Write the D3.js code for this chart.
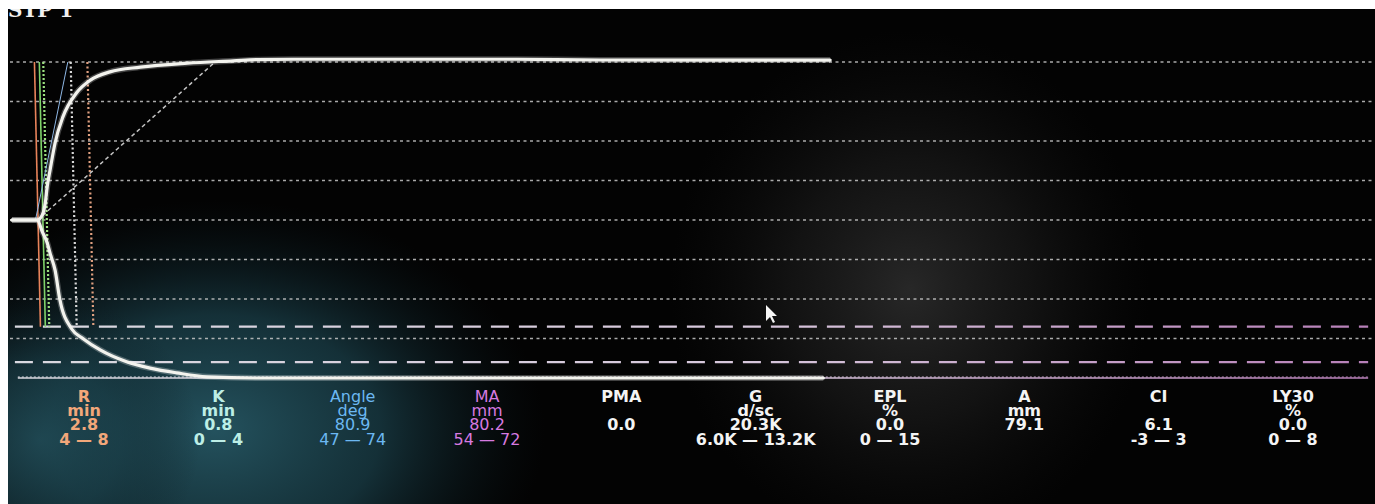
<!DOCTYPE html>
<html>
<head>
<meta charset="utf-8">
<script src="https://cdn.jsdelivr.net/npm/d3@7"></script>
<style>
html, body { margin: 0; padding: 0; background: #fff; }
svg { display: block; }
</style>
</head>
<body>
<div id="chart"></div>
<script>
// Trace: time (min) and half amplitude (mm)
var upperTime = [0.2, 2.8, 3.3, 3.6, 3.8, 4.1, 4.6, 5.4, 6.8, 8.2, 10.2, 13.3, 18.1, 22.8, 25.2, 28.9, 51.7, 60.2, 83.7];
var upperAmp = [0, 0, 1.3, 4.3, 8.5, 12.8, 19.5, 26.1, 32.2, 35.4, 37.5, 38.7, 39.7, 40.3, 40.6, 40.7, 40.7, 40.5, 40.5];
var lowerTime = [0.2, 2.8, 3.3, 3.8, 4.1, 4.6, 5.1, 6.3, 7.5, 9.2, 11.9, 14.3, 17.0, 20.1, 25.5, 83.0];
var lowerAmp = [0, 0, -3, -5.8, -8.5, -12.7, -20.3, -27.6, -30.1, -32.9, -35.9, -37.5, -38.7, -39.7, -40, -40];

// Grid
var gridLevels = [40, 30, 20, 10, 0, -10, -20, -30];
var maNormal = [54, 72];   // drawn at half amplitude
var baseLevel = -40;

// Marker lines (time in min)
var markerTimes = [2.8, 3.3, 3.7, 6.5, 8.2];
var markerColors = ['#e8835a', '#7fd36a', '#9be07f', '#d8d8d8', '#e0a080'];
var markerDash = ['none', 'none', '2,2', '2,2.5', '2,2.5'];

// Angle helpers: [t0, a0, t1, a1]
var tangentLine = [2.8, 0, 20.7, 39.5];
var angleLine = [2.6, 0, 5.9, 40];

// Result table
var paramNames = ['R', 'K', 'Angle', 'MA', 'PMA', 'G', 'EPL', 'A', 'CI', 'LY30'];
var paramUnits = ['min', 'min', 'deg', 'mm', '', 'd/sc', '%', 'mm', '', '%'];
var paramValues = ['2.8', '0.8', '80.9', '80.2', '0.0', '20.3K', '0.0', '79.1', '6.1', '0.0'];
var paramRanges = ['4 \u2014 8', '0 \u2014 4', '47 \u2014 74', '54 \u2014 72', '', '6.0K \u2014 13.2K', '0 \u2014 15', '', '-3 \u2014 3', '0 \u2014 8'];
var paramColors = ['#f2a77a', '#bdeee6', '#6cb8f2', '#d77ae0', '#f4f4f4', '#f4f4f4', '#f4f4f4', '#f4f4f4', '#f4f4f4', '#f4f4f4'];

var w = 1375, h = 504;

var svg = d3.select('#chart').append('svg')
    .attr('width', w)
    .attr('height', h)
;

var defs = svg.append('defs');

var g1 = defs.append('radialGradient').attr('id', 'glowTeal')
    .attr('cx', 0.5).attr('cy', 0.5).attr('r', 0.5);
g1.append('stop').attr('offset', '0%').attr('stop-color', '#24525e').attr('stop-opacity', 1);
g1.append('stop').attr('offset', '50%').attr('stop-color', '#1a3f49').attr('stop-opacity', 0.75);
g1.append('stop').attr('offset', '100%').attr('stop-color', '#0b1a1f').attr('stop-opacity', 0);

var g2 = defs.append('radialGradient').attr('id', 'glowGray')
    .attr('cx', 0.5).attr('cy', 0.5).attr('r', 0.5);
g2.append('stop').attr('offset', '0%').attr('stop-color', '#2e2e2e').attr('stop-opacity', 0.85);
g2.append('stop').attr('offset', '50%').attr('stop-color', '#1d1d1d').attr('stop-opacity', 0.6);
g2.append('stop').attr('offset', '100%').attr('stop-color', '#111').attr('stop-opacity', 0);

var lg = defs.append('linearGradient').attr('id', 'pinkFade')
    .attr('gradientUnits', 'userSpaceOnUse')
    .attr('x1', 0).attr('x2', w).attr('y1', 0).attr('y2', 0);
lg.append('stop').attr('offset', '0%').attr('stop-color', '#d9d9e0');
lg.append('stop').attr('offset', '55%').attr('stop-color', '#d7c7dc');
lg.append('stop').attr('offset', '100%').attr('stop-color', '#b77fb8');

// Background and screen reflections
svg.append('rect').attr('width', w).attr('height', h).attr('fill', '#030303');
svg.append('ellipse').attr('cx', 215).attr('cy', 430).attr('rx', 330).attr('ry', 230).attr('fill', 'url(#glowTeal)');
svg.append('ellipse').attr('cx', 40).attr('cy', 440).attr('rx', 160).attr('ry', 150).attr('fill', 'url(#glowTeal)').attr('opacity', 0.7);
svg.append('ellipse').attr('cx', 910).attr('cy', 290).attr('rx', 240).attr('ry', 260).attr('fill', 'url(#glowGray)');

// Scales
var x = d3.scaleLinear().domain([0, 139.3]).range([10, 1375]);
var y = d3.scaleLinear().domain([-40, 40]).range([378, 62]);
var col = d3.scalePoint().domain(paramNames).range([84, 1293]);

// Dotted grid
svg.selectAll('.grid')
    .data(gridLevels)
    .enter()
    .append('line')
    .attr('class', 'grid')
    .attr('x1', x(0)).attr('x2', x(139.3))
    .attr('y1', function (d) { return y(d); })
    .attr('y2', function (d) { return y(d); })
    .attr('stroke', '#c8c8c8')
    .attr('stroke-width', 1.7)
    .attr('stroke-dasharray', '3,3.5')
    .attr('opacity', 0.85)
;

// MA normal range, dashed
svg.selectAll('.ma')
    .data(maNormal)
    .enter()
    .append('line')
    .attr('class', 'ma')
    .attr('x1', x(0.5)).attr('x2', x(138.6))
    .attr('y1', function (d) { return y(-d / 2); })
    .attr('y2', function (d) { return y(-d / 2); })
    .attr('stroke', 'url(#pinkFade)')
    .attr('stroke-width', 2.2)
    .attr('stroke-dasharray', '18,10')
;

// Baseline
svg.append('line')
    .attr('x1', x(0.8)).attr('x2', x(138.6))
    .attr('y1', y(baseLevel)).attr('y2', y(baseLevel))
    .attr('stroke', 'url(#pinkFade)')
    .attr('stroke-width', 1.4)
;
svg.append('line')
    .attr('x1', x(0.8)).attr('x2', x(138.6))
    .attr('y1', y(baseLevel) - 1).attr('y2', y(baseLevel) - 1)
    .attr('stroke', 'url(#pinkFade)')
    .attr('stroke-width', 1.2)
    .attr('stroke-dasharray', '2,2')
;

// Marker lines
svg.selectAll('.marker')
    .data(markerTimes)
    .enter()
    .append('line')
    .attr('class', 'marker')
    .attr('x1', function (d) { return x(d) - 3; })
    .attr('x2', function (d) { return x(d) + 3; })
    .attr('y1', y(40))
    .attr('y2', y(-27))
    .attr('stroke', function (d, i) { return markerColors[i]; })
    .attr('stroke-width', function (d, i) { return markerDash[i] === 'none' ? 1.6 : 2.2; })
    .attr('stroke-dasharray', function (d, i) { return markerDash[i]; })
;

// Angle lines
svg.append('line')
    .attr('x1', x(tangentLine[0])).attr('y1', y(tangentLine[1]))
    .attr('x2', x(tangentLine[2])).attr('y2', y(tangentLine[3]))
    .attr('stroke', '#c4c4c4')
    .attr('stroke-width', 1.5)
    .attr('stroke-dasharray', '4,3')
;
svg.append('line')
    .attr('x1', x(angleLine[0])).attr('y1', y(angleLine[1]))
    .attr('x2', x(angleLine[2])).attr('y2', y(angleLine[3]))
    .attr('stroke', '#8fb8e6')
    .attr('stroke-width', 1)
;

// Trace
var line = d3.line()
    .x(function (d) { return x(d[0]); })
    .y(function (d) { return y(d[1]); })
    .curve(d3.curveMonotoneX)
;
var upper = d3.zip(upperTime, upperAmp);
var lower = d3.zip(lowerTime, lowerAmp);

[upper, lower].forEach(function (pts) {
    svg.append('path')
        .attr('d', line(pts))
        .attr('fill', 'none')
        .attr('stroke', '#ffffff')
        .attr('stroke-opacity', 0.25)
        .attr('stroke-width', 6)
    ;
    svg.append('path')
        .attr('d', line(pts))
        .attr('fill', 'none')
        .attr('stroke', '#f3f3ee')
        .attr('stroke-width', 3.2)
        .attr('stroke-linecap', 'round')
    ;
});

// Mouse pointer on the screen
svg.append('path')
    .attr('d', 'M766,305 L766,321 L770,317 L773,323 L775,322 L772,316 L777,316 Z')
    .attr('fill', '#f6f6f6')
;

// Result table
var rows = [paramNames, paramUnits, paramValues, paramRanges];
var rowY = [402, 416, 430, 445];

rows.forEach(function (row, r) {
    svg.selectAll('.row' + r)
        .data(row)
        .enter()
        .append('text')
        .attr('class', 'row' + r)
        .text(function (d) { return d; })
        .attr('x', function (d, i) { return col(paramNames[i]); })
        .attr('y', rowY[r])
        .attr('text-anchor', 'middle')
        .attr('font-family', 'DejaVu Sans, sans-serif')
        .attr('font-size', '16px')
        .attr('font-weight', function (d, i) { return (i === 2 || i === 3) ? 'normal' : 'bold'; })
        .attr('fill', function (d, i) { return paramColors[i]; })
    ;
});

// Screen header, cut by the photo edge
svg.append('text')
    .text('STP 1')
    .attr('x', 8)
    .attr('y', 17)
    .attr('font-family', 'DejaVu Serif, serif')
    .attr('font-weight', 'bold')
    .attr('font-size', '20px')
    .attr('fill', '#f0f0f0')
;
svg.append('rect').attr('x', 0).attr('y', 0).attr('width', w).attr('height', 9).attr('fill', '#ffffff');
svg.append('rect').attr('x', 0).attr('y', 0).attr('width', 8).attr('height', h).attr('fill', '#ffffff');
</script>
</body>
</html>
